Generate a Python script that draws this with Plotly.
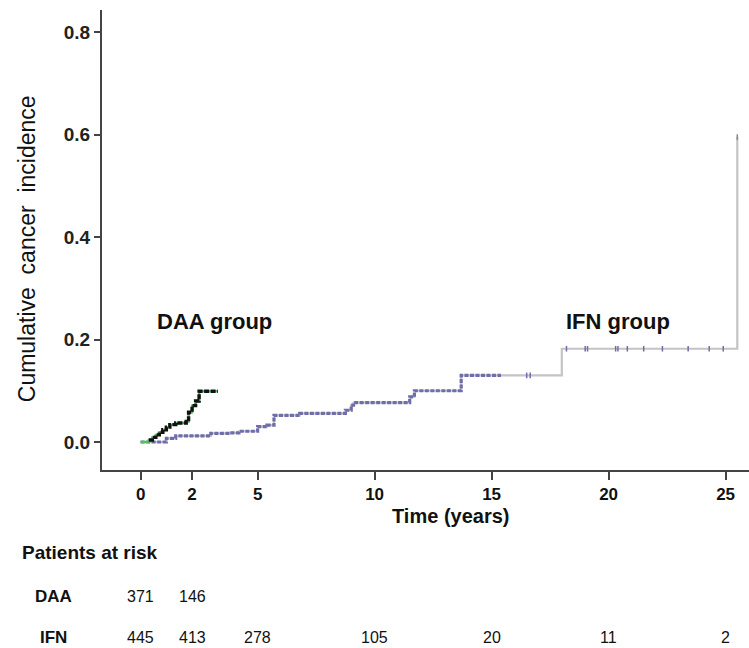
import numpy as np
import plotly.graph_objects as go

# ---- data ----
daa_t = [0, 0.35, 0.5, 0.65, 0.8, 0.95, 1.1, 1.25, 1.5, 1.95, 2.05, 2.2, 2.35, 2.5, 3.3]
daa_y = [0, 0.004, 0.009, 0.014, 0.019, 0.024, 0.029, 0.034, 0.037, 0.040, 0.058, 0.071, 0.080, 0.099, 0.099]

ifn_t = [0, 0.6, 1.1, 1.5, 3.0, 3.8, 4.2, 5.0, 5.4, 5.7, 6.8, 8.75, 9.0, 9.1, 11.5, 11.7, 13.7, 18.0, 25.5]
ifn_y = [0, 0.0, 0.007, 0.012, 0.017, 0.018, 0.021, 0.030, 0.033, 0.052, 0.056, 0.062, 0.072, 0.077, 0.088, 0.100, 0.130, 0.182, 0.595]

ifn_censor_late = [16.5, 16.65, 18.2, 19.0, 19.1, 20.3, 20.4, 20.8, 21.5, 22.3, 23.4, 24.3, 24.9]

x_tick_vals = [0, 2.2, 5, 10, 15, 20, 25]
x_tick_text = ["0", "2", "5", "10", "15", "20", "25"]
y_tick_vals = [0.0, 0.2, 0.4, 0.6, 0.8]

risk_times = [0, 2.2, 5, 10, 15, 20, 25]
risk_daa = ["371", "146"]
risk_ifn = ["445", "413", "278", "105", "20", "11", "2"]

# ---- helpers ----
def step_value(ts, ys, t):
    i = np.searchsorted(ts, t, side="right") - 1
    return ys[max(i, 0)]

split_t = 15.4
ifn_t_arr = np.array(ifn_t)
ifn_early_t = [t for t in ifn_t if t <= split_t] + [split_t]
ifn_early_y = [y for t, y in zip(ifn_t, ifn_y) if t <= split_t] + [step_value(ifn_t_arr, ifn_y, split_t)]
censor_y = [step_value(ifn_t_arr, ifn_y, t) for t in ifn_censor_late]

PURPLE = "#6e6eaa"
GRAY = "#c4c4c4"
GREEN = "#55c060"
FONT = "Liberation Sans, Arial"

fig = go.Figure()
fig.add_trace(go.Scatter(x=ifn_t, y=ifn_y, mode="lines", line=dict(shape="hv", color=GRAY, width=2.2),
                         hoverinfo="skip", showlegend=False))
fig.add_trace(go.Scatter(x=ifn_early_t, y=ifn_early_y, mode="lines",
                         line=dict(shape="hv", color=PURPLE, width=3.2, dash="4px,1.5px"),
                         hoverinfo="skip", showlegend=False))
fig.add_trace(go.Scatter(x=ifn_censor_late, y=censor_y, mode="markers",
                         marker=dict(symbol="line-ns-open", size=4, color=PURPLE,
                                     line=dict(color=PURPLE, width=1.5)),
                         hoverinfo="skip", showlegend=False))
fig.add_trace(go.Scatter(x=[ifn_t[-1]], y=[ifn_y[-1]], mode="markers",
                         marker=dict(symbol="line-ns-open", size=4, color="#888888",
                                     line=dict(color="#888888", width=1.5)),
                         hoverinfo="skip", showlegend=False))
fig.add_trace(go.Scatter(x=daa_t, y=daa_y, mode="lines", line=dict(shape="hv", color=GREEN, width=2.4),
                         hoverinfo="skip", showlegend=False))
fig.add_trace(go.Scatter(x=daa_t[1:], y=daa_y[1:], mode="lines",
                         line=dict(shape="hv", color="#111111", width=3.4, dash="5px,1.5px"),
                         hoverinfo="skip", showlegend=False))

axis_col = "#444444"
fig.update_xaxes(range=[-1.65, 26.0], showline=True, linecolor=axis_col, linewidth=2,
                 tickvals=x_tick_vals, ticktext=x_tick_text, ticks="outside", ticklen=8,
                 tickwidth=1.5, tickcolor=axis_col, showgrid=False, zeroline=False,
                 tickfont=dict(family=FONT, size=17, color="#111111", weight="bold"))
fig.update_yaxes(range=[-0.0546, 0.843], showline=True, linecolor=axis_col, linewidth=2,
                 tickvals=y_tick_vals, tickformat=".1f", ticks="outside", ticklen=6,
                 tickwidth=1.5, tickcolor=axis_col, showgrid=False, zeroline=False,
                 tickfont=dict(family=FONT, size=19, color="#222222", weight="bold"))

ann = []
ann.append(dict(text="DAA group", x=0.62, y=0.235, xref="x", yref="y", xanchor="left", yanchor="middle",
                showarrow=False, font=dict(family=FONT, size=22, color="#111111", weight="bold")))
ann.append(dict(text="IFN group", x=20.4, y=0.235, xref="x", yref="y", xanchor="center", yanchor="middle",
                showarrow=False, font=dict(family=FONT, size=22, color="#111111", weight="bold")))
ann.append(dict(text="Cumulative  cancer  incidence", x=-0.116, y=0.482, xref="paper", yref="paper",
                textangle=-90, xanchor="center", yanchor="middle", showarrow=False,
                font=dict(family=FONT, size=23, color="#111111")))
ann.append(dict(text="Time (years)", x=0.538, y=-0.099, xref="paper", yref="paper",
                xanchor="center", yanchor="middle", showarrow=False,
                font=dict(family=FONT, size=20, color="#111111", weight="bold")))
ann.append(dict(text="Patients at risk", x=(20 - 102) / 647, y=-0.180, xref="paper", yref="paper",
                xanchor="left", yanchor="middle", showarrow=False,
                font=dict(family=FONT, size=19, color="#111111", weight="bold")))
row_y = {"DAA": -0.274, "IFN": -0.365}
for lbl, yy in row_y.items():
    ann.append(dict(text=lbl, x=(53 - 102) / 647, y=yy, xref="paper", yref="paper",
                    xanchor="center", yanchor="middle", showarrow=False,
                    font=dict(family=FONT, size=17, color="#111111", weight="bold")))
for t, v in zip(risk_times, risk_daa):
    ann.append(dict(text=v, x=t, y=row_y["DAA"], xref="x", yref="paper", xanchor="center", yanchor="middle",
                    showarrow=False, font=dict(family=FONT, size=16, color="#111111")))
for t, v in zip(risk_times, risk_ifn):
    ann.append(dict(text=v, x=t, y=row_y["IFN"], xref="x", yref="paper", xanchor="center", yanchor="middle",
                    showarrow=False, font=dict(family=FONT, size=16, color="#111111")))

fig.update_layout(width=749, height=648, margin=dict(l=102, r=0, t=10, b=178),
                  plot_bgcolor="white", paper_bgcolor="white", annotations=ann, showlegend=False)

fig.write_html("out.html", config={"displayModeBar": False},
               post_script="document.body.style.margin='0';document.body.style.overflow='hidden';")
